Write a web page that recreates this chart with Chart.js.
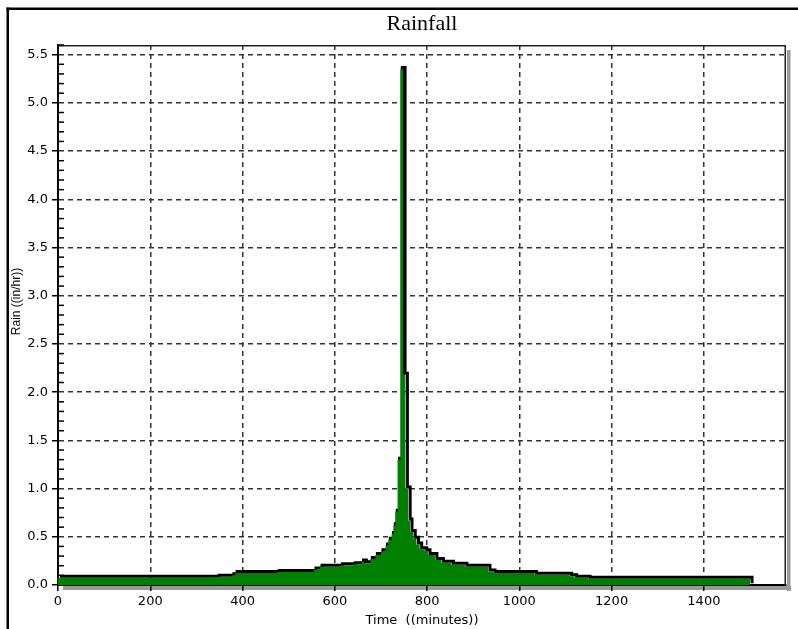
<!DOCTYPE html>
<html>
<head>
<meta charset="utf-8">
<script src="https://cdn.jsdelivr.net/npm/chart.js@4"></script>
<style>
html,body{margin:0;padding:0;background:#fff;}
#wrap{width:798px;height:629px;position:relative;overflow:hidden;}
canvas{display:block;}
</style>
</head>
<body>
<div id="wrap"><canvas id="c" width="798" height="629"></canvas></div>
<script>
const timeMinutes = [0, 345, 377, 384, 475, 555, 568, 612, 640, 658, 664, 677, 688, 700, 710, 716, 723, 727, 731, 736,
  742, 748, 753, 759, 763, 770, 777, 784, 795, 802, 817, 831, 853, 882, 932, 943, 1033, 1109, 1120, 1149, 1500];
const rainInHr = [0.075, 0.085, 0.10, 0.125, 0.135, 0.16, 0.19, 0.205, 0.215, 0.245, 0.225, 0.27, 0.31, 0.35, 0.41, 0.47, 0.53, 0.62, 0.76, 1.30,
  5.35, 2.18, 1.00, 0.67, 0.55, 0.48, 0.42, 0.37, 0.35, 0.31, 0.26, 0.23, 0.21, 0.19, 0.14, 0.125, 0.107, 0.09, 0.075, 0.065, 0];
const xTickValues = [0, 200, 400, 600, 800, 1000, 1200, 1400];
const xMax = 1578;
const yMax = 5.6;
const yMinorStep = 0.1;
const yMajorStep = 0.5;
const chartTitle = 'Rainfall';
const xTitle = 'Time  ((minutes))';
const yTitle = 'Rain ((in/hr))';

const points = timeMinutes.map((t, i) => ({x: t, y: rainInHr[i]}));
const isMajor = v => Math.abs(v / yMajorStep - Math.round(v / yMajorStep)) < 1e-6;

Chart.defaults.font.family = '"DejaVu Sans", sans-serif';
Chart.defaults.color = '#000';

const shadowLine = {
  id: 'shadowLine',
  beforeDatasetDraw(chart, args) {
    if (args.index === 1) { chart.ctx.save(); chart.ctx.translate(2, -1.5); }
  },
  afterDatasetDraw(chart, args) {
    if (args.index === 1) { chart.ctx.restore(); }
  }
};

const framePlugin = {
  id: 'frame',
  beforeDraw(chart) {
    const {ctx, chartArea: a} = chart;
    ctx.save();
    ctx.fillStyle = '#fff';
    ctx.fillRect(0, 0, chart.width, chart.height);
    ctx.fillStyle = '#9a9a9a';
    ctx.fillRect(a.right + 1, a.top + 5, 3.5, a.bottom - a.top + 1);
    ctx.fillRect(a.left + 5, a.bottom + 1, a.right - a.left, 4);
    ctx.restore();
  },
  afterDraw(chart) {
    const {ctx, chartArea: a} = chart;
    const ys = chart.scales.y;
    ctx.save();
    // plot frame top + right
    ctx.strokeStyle = '#222';
    ctx.lineWidth = 1.5;
    ctx.beginPath();
    ctx.moveTo(a.left, a.top + 0.75);
    ctx.lineTo(a.right - 0.75, a.top + 0.75);
    ctx.lineTo(a.right - 0.75, a.bottom);
    ctx.stroke();
    // minor y ticks (inside)
    ctx.strokeStyle = '#000';
    ctx.lineWidth = 1.5;
    ys.ticks.forEach(t => {
      if (!isMajor(t.value)) {
        const y = ys.getPixelForValue(t.value);
        ctx.beginPath();
        ctx.moveTo(a.left, y);
        ctx.lineTo(a.left + 6, y);
        ctx.stroke();
      }
    });
    // y axis title
    ctx.fillStyle = '#000';
    ctx.font = '12px "Liberation Sans", sans-serif';
    ctx.textAlign = 'center';
    ctx.textBaseline = 'middle';
    ctx.translate(16.5, a.top + (a.bottom - a.top) * 0.475);
    ctx.rotate(-Math.PI / 2);
    ctx.fillText(yTitle, 0, 0);
    ctx.restore();
    // outer frame
    ctx.save();
    ctx.fillStyle = '#000';
    ctx.fillRect(6.5, 7.5, 2.5, chart.height);
    ctx.fillRect(6.5, 7.5, chart.width, 2.5);
    ctx.restore();
  }
};

new Chart(document.getElementById('c'), {
  type: 'line',
  data: {
    datasets: [
      {label: 'Rain', data: points, stepped: true, fill: 'origin', backgroundColor: '#008000',
       borderColor: 'rgba(0,0,0,0)', borderWidth: 0, pointRadius: 0},
      {label: 'Rain outline', data: points, stepped: true, fill: false, borderColor: '#000',
       borderWidth: 3, pointRadius: 0}
    ]
  },
  options: {
    responsive: false,
    animation: false,
    devicePixelRatio: 1,
    layout: {padding: {left: 0, right: 12, top: 0, bottom: 0}},
    plugins: {
      legend: {display: false},
      tooltip: {enabled: false},
      title: {display: true, text: chartTitle, fullSize: false, color: '#000',
        font: {family: '"Liberation Serif", serif', size: 22, weight: 'normal'},
        padding: {top: 11, bottom: 7.6}}
    },
    scales: {
      x: {
        type: 'linear', min: 0, max: xMax,
        afterBuildTicks: s => { s.ticks = xTickValues.map(v => ({value: v})); },
        afterFit: s => { s.height = 44; },
        ticks: {font: {size: 13}, color: '#000', padding: 3, maxRotation: 0, autoSkip: false,
          callback: v => String(v)},
        grid: {color: c => (c.tick && c.tick.value === 0) ? 'rgba(0,0,0,0)' : '#333',
          lineWidth: 1.5, tickColor: '#000', tickLength: 6, tickWidth: 1.5},
        border: {display: true, color: '#000', width: 2, dash: [5, 4]},
        title: {display: true, text: xTitle, font: {size: 13}, color: '#000', padding: {top: 0, bottom: 1}}
      },
      y: {
        type: 'linear', min: 0, max: yMax,
        afterFit: s => { s.width = 58; },
        ticks: {stepSize: yMinorStep, autoSkip: false, font: {size: 13}, color: '#000', padding: 4,
          callback: v => isMajor(v) ? Number(v).toFixed(1) : ''},
        grid: {color: c => (c.tick && isMajor(c.tick.value) && c.tick.value > 0) ? '#333' : 'rgba(0,0,0,0)',
          lineWidth: 1.5, tickColor: c => (c.tick && isMajor(c.tick.value)) ? '#000' : 'rgba(0,0,0,0)',
          tickLength: 6, tickWidth: 1.5},
        border: {display: true, color: '#000', width: 2, dash: [5, 4]}
      }
    }
  },
  plugins: [shadowLine, framePlugin]
});
</script>
</body>
</html>
